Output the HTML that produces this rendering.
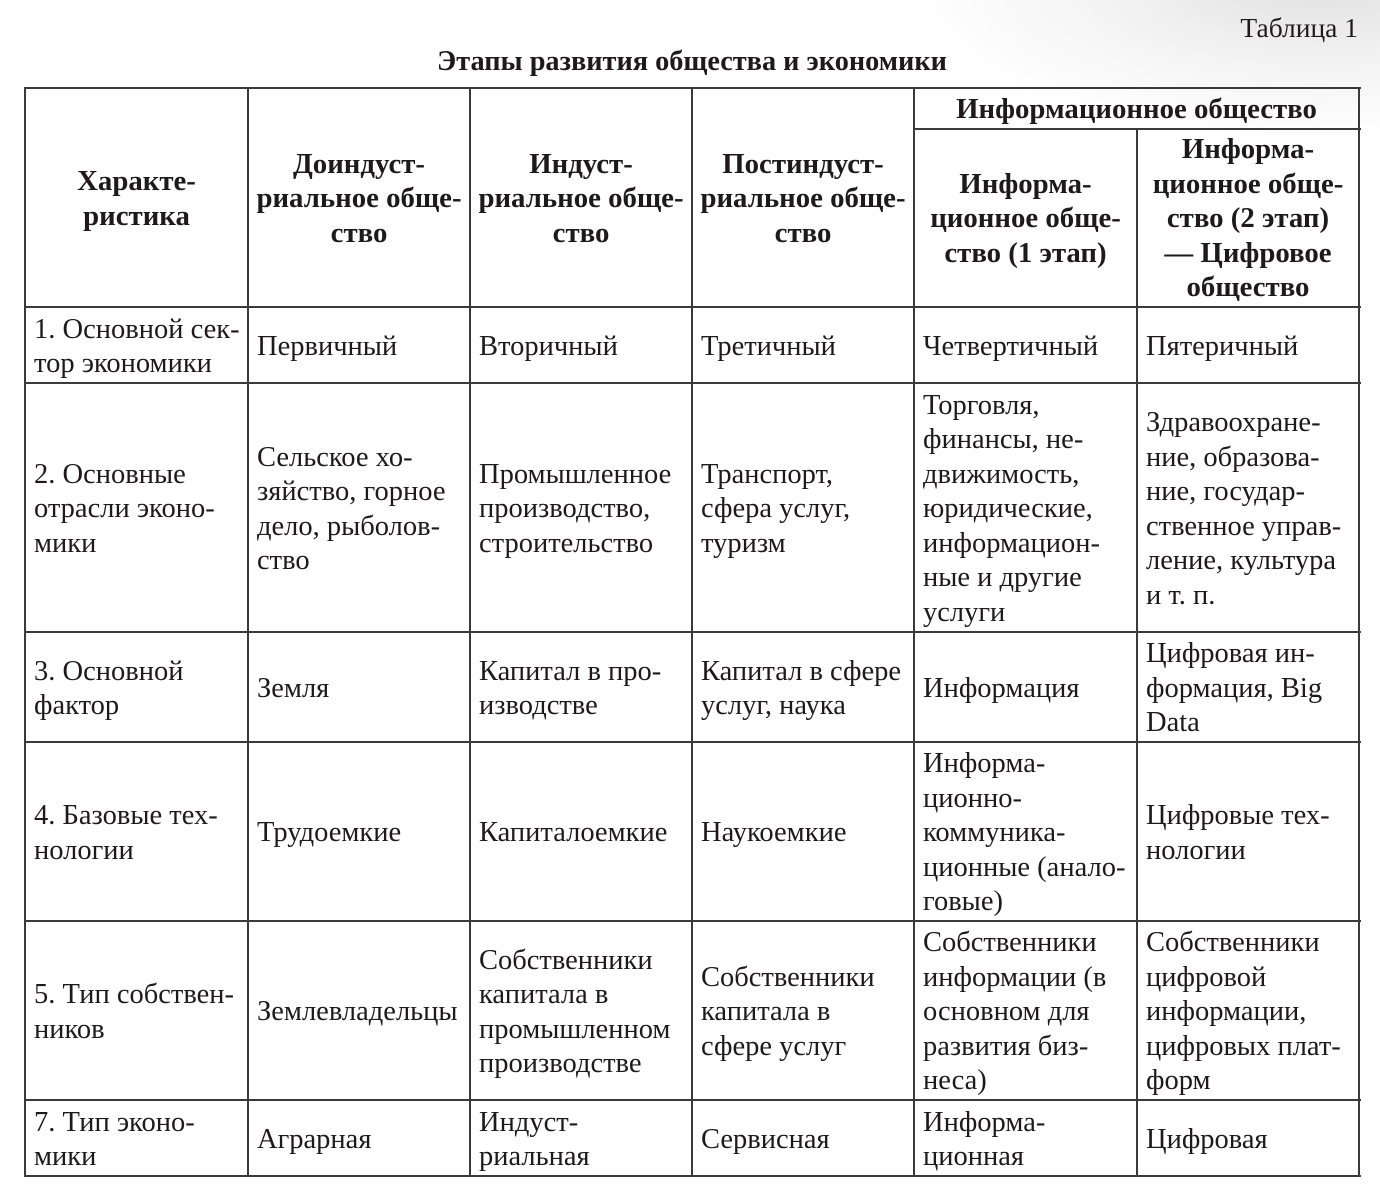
<!DOCTYPE html>
<html><head><meta charset="utf-8">
<style>
html,body{margin:0;padding:0;}
body{width:1380px;height:1202px;position:relative;overflow:hidden;background:#fff;
 font-family:"Liberation Serif","Noto Serif CJK SC",serif;color:#1e1a1b;}
.shade{position:absolute;left:900px;top:-120px;width:700px;height:260px;
 background:radial-gradient(ellipse at 60% 40%, rgba(200,200,200,0.55) 0%, rgba(225,225,225,0.35) 40%, rgba(255,255,255,0) 70%);}
.h{position:absolute;height:2px;background:#3a3a3a;}
.v{position:absolute;width:2px;background:#3a3a3a;}
.c{position:absolute;display:flex;align-items:center;box-sizing:border-box;padding-left:9px;padding-top:4px;
 font-size:28.5px;line-height:34.5px;white-space:nowrap;}
.hd{position:absolute;display:flex;align-items:center;justify-content:center;text-align:center;box-sizing:border-box;padding-top:1px;
 font-weight:bold;font-size:28.8px;line-height:34.5px;white-space:nowrap;}
</style></head><body>
<div class="shade"></div>
<div style="position:absolute;right:22px;top:11px;font-size:27.5px;line-height:34px;">Таблица 1</div>
<div style="position:absolute;left:0;width:1384px;top:45px;text-align:center;font-weight:bold;font-size:28.3px;line-height:34px;">Этапы развития общества и экономики</div>

<!-- horizontal lines -->
<div class="h" style="left:24px;width:1337px;top:87px;"></div>
<div class="h" style="left:914px;width:447px;top:128px;"></div>
<div class="h" style="left:24px;width:1337px;top:306px;"></div>
<div class="h" style="left:24px;width:1337px;top:382px;"></div>
<div class="h" style="left:24px;width:1337px;top:631px;"></div>
<div class="h" style="left:24px;width:1337px;top:741px;"></div>
<div class="h" style="left:24px;width:1337px;top:920px;"></div>
<div class="h" style="left:24px;width:1337px;top:1099px;"></div>
<div class="h" style="left:24px;width:1337px;top:1175px;"></div>
<!-- vertical lines -->
<div class="v" style="left:24px;top:87px;height:1090px;"></div>
<div class="v" style="left:247px;top:87px;height:1090px;"></div>
<div class="v" style="left:469px;top:87px;height:1090px;"></div>
<div class="v" style="left:691px;top:87px;height:1090px;"></div>
<div class="v" style="left:913px;top:87px;height:1090px;"></div>
<div class="v" style="left:1136px;top:128px;height:1049px;"></div>
<div class="v" style="left:1358px;top:87px;height:1090px;"></div>

<!-- header -->
<div class="hd" style="left:25px;width:223px;top:89px;height:218px;">Характе-<br>ристика</div>
<div class="hd" style="left:248px;width:222px;top:89px;height:218px;">Доиндуст-<br>риальное обще-<br>ство</div>
<div class="hd" style="left:470px;width:222px;top:89px;height:218px;">Индуст-<br>риальное обще-<br>ство</div>
<div class="hd" style="left:692px;width:222px;top:89px;height:218px;">Постиндуст-<br>риальное обще-<br>ство</div>
<div class="hd" style="left:914px;width:445px;top:89px;height:40px;">Информационное общество</div>
<div class="hd" style="left:914px;width:223px;top:129px;height:178px;">Информа-<br>ционное обще-<br>ство (1 этап)</div>
<div class="hd" style="left:1137px;width:222px;top:129px;height:178px;">Информа-<br>ционное обще-<br>ство (2 этап)<br>— Цифровое<br>общество</div>

<!-- row 1 -->
<div class="c" style="left:25px;width:223px;top:307px;height:76px;">1. Основной сек-<br>тор экономики</div>
<div class="c" style="left:248px;width:222px;top:307px;height:76px;">Первичный</div>
<div class="c" style="left:470px;width:222px;top:307px;height:76px;">Вторичный</div>
<div class="c" style="left:692px;width:222px;top:307px;height:76px;">Третичный</div>
<div class="c" style="left:914px;width:223px;top:307px;height:76px;">Четвертичный</div>
<div class="c" style="left:1137px;width:222px;top:307px;height:76px;">Пятеричный</div>

<!-- row 2 -->
<div class="c" style="left:25px;width:223px;top:383px;height:249px;">2. Основные<br>отрасли эконо-<br>мики</div>
<div class="c" style="left:248px;width:222px;top:383px;height:249px;">Сельское хо-<br>зяйство, горное<br>дело, рыболов-<br>ство</div>
<div class="c" style="left:470px;width:222px;top:383px;height:249px;">Промышленное<br>производство,<br>строительство</div>
<div class="c" style="left:692px;width:222px;top:383px;height:249px;">Транспорт,<br>сфера услуг,<br>туризм</div>
<div class="c" style="left:914px;width:223px;top:383px;height:249px;">Торговля,<br>финансы, не-<br>движимость,<br>юридические,<br>информацион-<br>ные и другие<br>услуги</div>
<div class="c" style="left:1137px;width:222px;top:383px;height:249px;">Здравоохране-<br>ние, образова-<br>ние, государ-<br>ственное управ-<br>ление, культура<br>и т. п.</div>

<!-- row 3 -->
<div class="c" style="left:25px;width:223px;top:632px;height:110px;">3. Основной<br>фактор</div>
<div class="c" style="left:248px;width:222px;top:632px;height:110px;">Земля</div>
<div class="c" style="left:470px;width:222px;top:632px;height:110px;">Капитал в про-<br>изводстве</div>
<div class="c" style="left:692px;width:222px;top:632px;height:110px;">Капитал в сфере<br>услуг, наука</div>
<div class="c" style="left:914px;width:223px;top:632px;height:110px;">Информация</div>
<div class="c" style="left:1137px;width:222px;top:632px;height:110px;">Цифровая ин-<br>формация, Big<br>Data</div>

<!-- row 4 -->
<div class="c" style="left:25px;width:223px;top:742px;height:179px;">4. Базовые тех-<br>нологии</div>
<div class="c" style="left:248px;width:222px;top:742px;height:179px;">Трудоемкие</div>
<div class="c" style="left:470px;width:222px;top:742px;height:179px;">Капиталоемкие</div>
<div class="c" style="left:692px;width:222px;top:742px;height:179px;">Наукоемкие</div>
<div class="c" style="left:914px;width:223px;top:742px;height:179px;">Информа-<br>ционно-<br>коммуника-<br>ционные (анало-<br>говые)</div>
<div class="c" style="left:1137px;width:222px;top:742px;height:179px;">Цифровые тех-<br>нологии</div>

<!-- row 5 -->
<div class="c" style="left:25px;width:223px;top:921px;height:179px;">5. Тип собствен-<br>ников</div>
<div class="c" style="left:248px;width:222px;top:921px;height:179px;">Землевладельцы</div>
<div class="c" style="left:470px;width:222px;top:921px;height:179px;">Собственники<br>капитала в<br>промышленном<br>производстве</div>
<div class="c" style="left:692px;width:222px;top:921px;height:179px;">Собственники<br>капитала в<br>сфере услуг</div>
<div class="c" style="left:914px;width:223px;top:921px;height:179px;">Собственники<br>информации (в<br>основном для<br>развития биз-<br>неса)</div>
<div class="c" style="left:1137px;width:222px;top:921px;height:179px;">Собственники<br>цифровой<br>информации,<br>цифровых плат-<br>форм</div>

<!-- row 6 -->
<div class="c" style="left:25px;width:223px;top:1100px;height:76px;">7. Тип эконо-<br>мики</div>
<div class="c" style="left:248px;width:222px;top:1100px;height:76px;">Аграрная</div>
<div class="c" style="left:470px;width:222px;top:1100px;height:76px;">Индуст-<br>риальная</div>
<div class="c" style="left:692px;width:222px;top:1100px;height:76px;">Сервисная</div>
<div class="c" style="left:914px;width:223px;top:1100px;height:76px;">Информа-<br>ционная</div>
<div class="c" style="left:1137px;width:222px;top:1100px;height:76px;">Цифровая</div>
</body></html>
